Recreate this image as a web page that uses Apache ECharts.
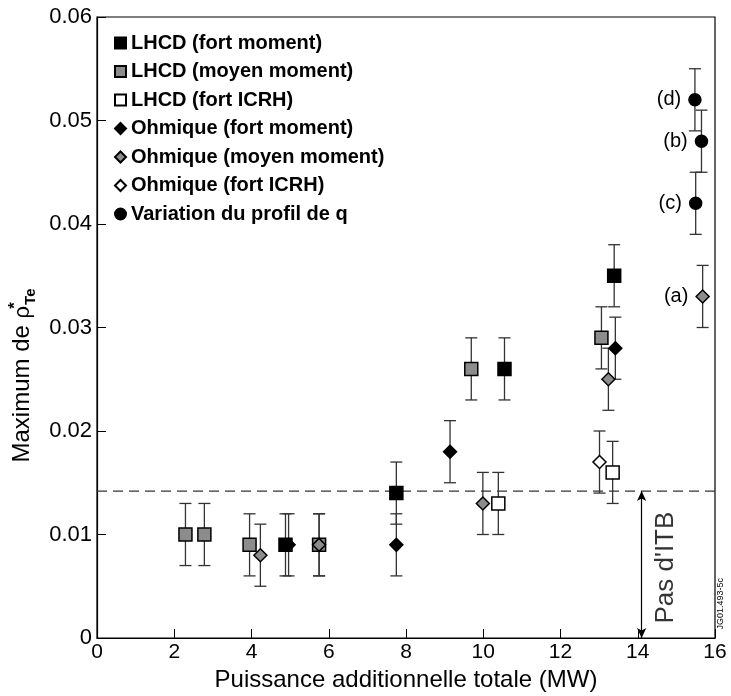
<!DOCTYPE html>
<html>
<head>
<meta charset="utf-8">
<script src="https://cdn.jsdelivr.net/npm/echarts@6/dist/echarts.min.js"></script>
<style>html,body{margin:0;padding:0;background:#fff}#chart{width:731px;height:696px}</style>
</head>
<body>
<div id="chart"></div>
<script>
// LHCD (fort moment)
var lhcdFortX  = [4.88, 7.75, 10.55, 13.39];
var lhcdFortY  = [0.009, 0.014, 0.026, 0.035];
var lhcdFortLo = [0.006, 0.011, 0.023, 0.032];
var lhcdFortHi = [0.012, 0.017, 0.029, 0.038];
// LHCD (moyen moment)
var lhcdMoyX  = [2.29, 2.78, 3.95, 5.75, 9.69, 13.06];
var lhcdMoyY  = [0.010, 0.010, 0.009, 0.009, 0.026, 0.029];
var lhcdMoyLo = [0.007, 0.007, 0.006, 0.006, 0.023, 0.026];
var lhcdMoyHi = [0.013, 0.013, 0.012, 0.012, 0.029, 0.032];
// LHCD (fort ICRH)
var lhcdIcrhX  = [10.39, 13.35];
var lhcdIcrhY  = [0.013, 0.016];
var lhcdIcrhLo = [0.010, 0.013];
var lhcdIcrhHi = [0.016, 0.019];
// Ohmique (fort moment)
var ohmFortX  = [4.96, 7.75, 9.14, 13.42];
var ohmFortY  = [0.009, 0.009, 0.018, 0.028];
var ohmFortLo = [0.006, 0.006, 0.015, 0.025];
var ohmFortHi = [0.012, 0.012, 0.021, 0.031];
// Ohmique (moyen moment)
var ohmMoyX  = [4.23, 5.75, 9.99, 13.24, 15.68];
var ohmMoyY  = [0.008, 0.009, 0.013, 0.025, 0.033];
var ohmMoyLo = [0.005, 0.006, 0.010, 0.022, 0.030];
var ohmMoyHi = [0.011, 0.012, 0.016, 0.028, 0.036];
var ohmMoyLab = ['', '', '', '', '(a)'];
// Ohmique (fort ICRH)
var ohmIcrhX  = [13.01];
var ohmIcrhY  = [0.017];
var ohmIcrhLo = [0.014];
var ohmIcrhHi = [0.020];
// Variation du profil de q
var profilX  = [15.48, 15.65, 15.50];
var profilY  = [0.052, 0.048, 0.042];
var profilLo = [0.049, 0.045, 0.039];
var profilHi = [0.055, 0.051, 0.045];
var profilLab = ['(d)', '(b)', '(c)'];

// seuil "pas d'ITB"
var seuilX = [0, 16];
var seuilY = 0.0142;
var flecheX = 14.1;
var texteITB = [14.72, 0.0068];

var police = 'Liberation Sans, Arial, sans-serif';

function pts(xs, ys, labs){
  var out = [];
  for (var i = 0; i < xs.length; i++) {
    var d = {value: [xs[i], ys[i]]};
    if (labs && labs[i]) d.label = {show: true, formatter: labs[i]};
    out.push(d);
  }
  return out;
}
var errData = [];
function addErr(xs, lo, hi){
  for (var i = 0; i < xs.length; i++) errData.push([xs[i], lo[i], hi[i]]);
}
addErr(lhcdFortX, lhcdFortLo, lhcdFortHi);
addErr(lhcdMoyX, lhcdMoyLo, lhcdMoyHi);
addErr(lhcdIcrhX, lhcdIcrhLo, lhcdIcrhHi);
addErr(ohmFortX, ohmFortLo, ohmFortHi);
addErr(ohmMoyX, ohmMoyLo, ohmMoyHi);
addErr(ohmIcrhX, ohmIcrhLo, ohmIcrhHi);
addErr(profilX, profilLo, profilHi);

var renderErr = function(params, api){
  var x = api.value(0);
  var a = api.coord([x, api.value(1)]);
  var b = api.coord([x, api.value(2)]);
  var w = 6;
  var st = {stroke: '#333', lineWidth: 1.3};
  return {type: 'group', children: [
    {type: 'line', shape: {x1: a[0], y1: a[1], x2: b[0], y2: b[1]}, style: st},
    {type: 'line', shape: {x1: a[0]-w, y1: a[1], x2: a[0]+w, y2: a[1]}, style: st},
    {type: 'line', shape: {x1: b[0]-w, y1: b[1], x2: b[0]+w, y2: b[1]}, style: st}
  ]};
};

var etiquette = {show: false, position: 'left', distance: 7, color: '#000', fontSize: 20, fontFamily: police};

function nuage(nom, symbole, taille, fond, bord, data){
  return {
    name: nom, type: 'scatter', symbol: symbole, symbolSize: taille, z: 5,
    itemStyle: {color: fond, borderColor: bord, borderWidth: 1.5, opacity: 1},
    label: etiquette, data: data
  };
}

var chart = echarts.init(document.getElementById('chart'));
chart.setOption({
  backgroundColor: '#fff',
  animation: false,
  grid: {left: 97, right: 16, top: 17, bottom: 58, show: true, borderColor: '#000', borderWidth: 1.2,
         backgroundColor: 'transparent', containLabel: false, outerBoundsMode: 'none'},
  legend: {
    left: 109, top: 28, orient: 'vertical', itemWidth: 11, itemHeight: 11, itemGap: 8.5,
    textStyle: {fontFamily: police, fontWeight: 'bold', fontSize: 20, color: '#000', lineHeight: 20},
    data: ['LHCD (fort moment)', 'LHCD (moyen moment)', 'LHCD (fort ICRH)', 'Ohmique (fort moment)', 'Ohmique (moyen moment)', 'Ohmique (fort ICRH)', 'Variation du profil de q']
  },
  xAxis: {
    type: 'value', min: 0, max: 16, interval: 2,
    name: 'Puissance additionnelle totale (MW)', nameLocation: 'middle', nameGap: 30,
    nameTextStyle: {fontFamily: police, fontSize: 24, color: '#000'},
    axisLine: {lineStyle: {color: '#000', width: 1.2}},
    axisTick: {inside: true, length: 9, lineStyle: {color: '#000'}},
    axisLabel: {fontFamily: police, fontSize: 21, color: '#000', margin: 4},
    splitLine: {show: false}
  },
  yAxis: {
    type: 'value', min: 0, max: 0.06, interval: 0.01,
    name: '{m|Maximum de }{r|ρ}{sup|*}{sub|Te}', nameLocation: 'middle', nameGap: 59,
    nameTextStyle: {
      fontFamily: police, fontSize: 24, color: '#000', padding: [0, 96, 0, 0],
      rich: {
        m: {fontFamily: police, fontSize: 24, color: '#000'},
        r: {fontFamily: police, fontSize: 22, color: '#000'},
        sup: {fontFamily: police, fontSize: 17, color: '#000', fontWeight: 'bold', width: 1, padding: [0, 0, 14, 0]},
        sub: {fontFamily: police, fontSize: 15, color: '#000', fontWeight: 'bold', padding: [8, 0, 0, 0], verticalAlign: 'bottom'}
      }
    },
    axisLine: {lineStyle: {color: '#000', width: 1.2}},
    axisTick: {inside: true, length: 9, lineStyle: {color: '#000'}},
    axisLabel: {fontFamily: police, fontSize: 22, color: '#000', margin: 5},
    splitLine: {show: false}
  },
  series: [
    {
      name: 'err', type: 'custom', renderItem: renderErr, z: 2,
      encode: {x: 0, y: [1, 2]}, data: errData, silent: true
    },
    {
      name: 'seuil', type: 'line', symbol: 'none', z: 1, silent: true,
      lineStyle: {color: '#333', width: 1.2, type: [10, 6]},
      data: [[seuilX[0], seuilY], [seuilX[1], seuilY]],
      markLine: {
        silent: true, symbol: ['arrow', 'arrow'], symbolSize: [7, 10],
        lineStyle: {color: '#000', width: 1.2, type: 'solid'},
        label: {show: false},
        data: [[{coord: [flecheX, 0]}, {coord: [flecheX, seuilY]}]]
      }
    },
    {
      name: 'texte', type: 'scatter', symbolSize: 0, silent: true,
      label: {show: true, position: 'inside', rotate: 90, formatter: "Pas d'ITB", fontFamily: police, fontSize: 26, color: '#000'},
      data: [texteITB]
    },
    nuage('LHCD (fort moment)', 'rect', 13, '#000', '#000', pts(lhcdFortX, lhcdFortY)),
    nuage('LHCD (moyen moment)', 'rect', 13, '#8c8c8c', '#000', pts(lhcdMoyX, lhcdMoyY)),
    nuage('LHCD (fort ICRH)', 'rect', 13, '#fff', '#000', pts(lhcdIcrhX, lhcdIcrhY)),
    nuage('Ohmique (fort moment)', 'diamond', 13, '#000', '#000', pts(ohmFortX, ohmFortY)),
    nuage('Ohmique (moyen moment)', 'diamond', 13, '#8c8c8c', '#000', pts(ohmMoyX, ohmMoyY, ohmMoyLab)),
    nuage('Ohmique (fort ICRH)', 'diamond', 13, '#fff', '#000', pts(ohmIcrhX, ohmIcrhY)),
    nuage('Variation du profil de q', 'circle', 12, '#000', '#000', pts(profilX, profilY, profilLab))
  ],
  graphic: [{
    type: 'text', left: 716, top: 578, rotation: Math.PI / 2,
    style: {text: 'JG01.493-5c', font: '9px ' + police, fill: '#000'}
  }]
});
</script>
</body>
</html>
